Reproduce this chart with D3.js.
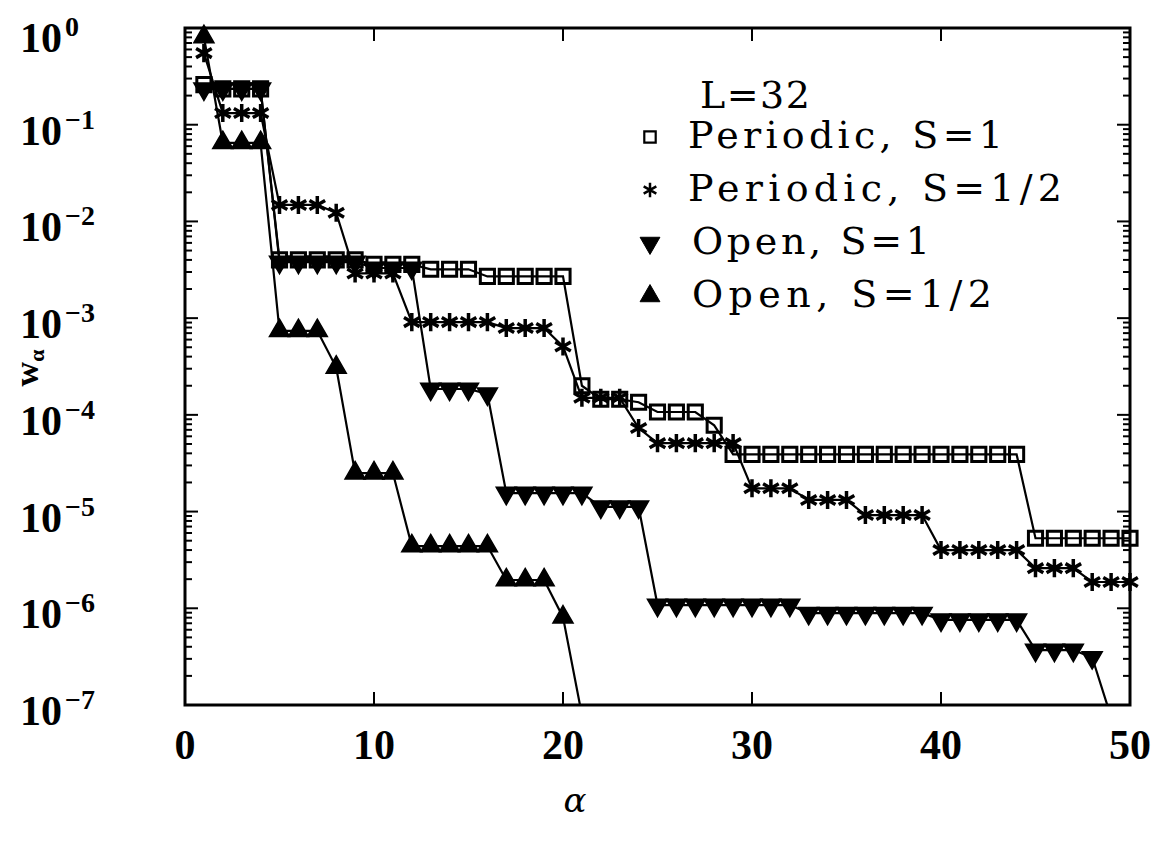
<!DOCTYPE html>
<html><head><meta charset="utf-8">
<script src="https://cdn.jsdelivr.net/npm/d3@7"></script>
<style>body{margin:0;background:#fff}</style>
</head><body>
<svg id="c" width="1166" height="845"></svg>
<script>
// ---- data ----
const alpha = [1,2,3,4,5,6,7,8,9,10,11,12,13,14,15,16,17,18,19,20,21,22,23,24,25,26,27,28,29,30,31,32,33,34,35,36,37,38,39,40,41,42,43,44,45,46,47,48,49,50];
const periodicS1 = [0.26,0.235,0.235,0.235,0.0040,0.0040,0.0040,0.0040,0.0040,0.0036,0.0036,0.0036,0.0032,0.0032,0.0032,0.0027,0.0027,0.0027,0.0027,0.0027,
  2.0e-4,1.45e-4,1.45e-4,1.35e-4,1.07e-4,1.07e-4,1.07e-4,7.8e-5,
  3.9e-5,3.9e-5,3.9e-5,3.9e-5,3.9e-5,3.9e-5,3.9e-5,3.9e-5,3.9e-5,3.9e-5,3.9e-5,3.9e-5,3.9e-5,3.9e-5,3.9e-5,3.9e-5,
  5.3e-6,5.3e-6,5.3e-6,5.3e-6,5.3e-6,5.3e-6];
const periodicS12 = [0.55,0.132,0.132,0.132,0.0148,0.0148,0.0148,0.0123,0.0029,0.0029,0.0029,
  9.1e-4,9.1e-4,9.1e-4,9.1e-4,9.1e-4,7.9e-4,7.9e-4,7.9e-4,5.1e-4,1.5e-4,1.5e-4,1.5e-4,7.3e-5,
  5.1e-5,5.1e-5,5.1e-5,5.1e-5,5.1e-5,1.74e-5,1.74e-5,1.74e-5,1.32e-5,1.32e-5,1.32e-5,
  9.2e-6,9.2e-6,9.2e-6,9.2e-6,4.0e-6,4.0e-6,4.0e-6,4.0e-6,4.0e-6,2.6e-6,2.6e-6,2.6e-6,1.87e-6,1.87e-6,1.87e-6];
const openS1 = [0.235,0.235,0.235,0.235,0.0038,0.0038,0.0038,0.0038,0.0038,0.0033,0.0033,0.0033,
  1.85e-4,1.85e-4,1.85e-4,1.65e-4,1.55e-5,1.55e-5,1.55e-5,1.55e-5,1.55e-5,1.12e-5,1.12e-5,1.12e-5,
  1.08e-6,1.08e-6,1.08e-6,1.08e-6,1.08e-6,1.08e-6,1.08e-6,1.08e-6,
  8.9e-7,8.9e-7,8.9e-7,8.9e-7,8.9e-7,8.9e-7,8.9e-7,7.6e-7,7.6e-7,7.6e-7,7.6e-7,7.6e-7,
  3.7e-7,3.7e-7,3.7e-7,3.1e-7,7.5e-8];
const openS12 = [0.81,0.065,0.065,0.065,7.4e-4,7.4e-4,7.4e-4,3.1e-4,2.5e-5,2.5e-5,2.5e-5,
  4.4e-6,4.4e-6,4.4e-6,4.4e-6,4.4e-6,1.96e-6,1.96e-6,1.96e-6,8.1e-7,7.9e-8];
const seriesNames = ["Periodic,  S=1","Periodic,  S=1/2","Open,  S=1","Open,  S=1/2"];
const legendTitle = "L=32";
const xTicks = [0,10,20,30,40,50];
const xTickLabels = ["0","10","20","30","40","50"];
const yTickExps = ["0","\u22121","\u22122","\u22123","\u22124","\u22125","\u22126","\u22127"];

// ---- layout ----
const L=185, R=1130, T=28, B=705;
const svg = d3.select("#c");
const xs = d3.scaleLinear().domain([0,50]).range([L,R]);
const ys = d3.scaleLog().domain([1e-7,1]).range([B,T]);

svg.append("defs").append("clipPath").attr("id","clip")
  .append("rect").attr("x",L).attr("y",T).attr("width",R-L).attr("height",B-T);

// ticks
const g = svg.append("g").attr("stroke","#000");
const allY = ys.ticks();
allY.forEach(v=>{
  const lg = Math.log10(v);
  const major = Math.abs(lg-Math.round(lg))<1e-6;
  const len = major?13:7;
  const y = ys(v);
  g.append("line").attr("x1",L).attr("x2",L+len).attr("y1",y).attr("y2",y).attr("stroke-width",2);
  g.append("line").attr("x1",R).attr("x2",R-len).attr("y1",y).attr("y2",y).attr("stroke-width",2);
});
xTicks.forEach(v=>{
  const x = xs(v);
  g.append("line").attr("x1",x).attr("x2",x).attr("y1",B).attr("y2",B-13).attr("stroke-width",2);
  g.append("line").attr("x1",x).attr("x2",x).attr("y1",T).attr("y2",T+13).attr("stroke-width",2);
});

// frame
svg.append("rect").attr("x",L).attr("y",T).attr("width",R-L).attr("height",B-T)
  .attr("fill","none").attr("stroke","#000").attr("stroke-width",3);

// tick labels
const lblFont = "'Liberation Serif', serif";
xTicks.forEach((v,i)=>{
  svg.append("text").attr("x",xs(v)).attr("y",B+54).attr("text-anchor","middle")
    .attr("font-family",lblFont).attr("font-weight","bold").attr("font-size",42)
    .text(xTickLabels[i]);
});
const majors = allY.filter(v=>{const lg=Math.log10(v);return Math.abs(lg-Math.round(lg))<1e-6;});
majors.forEach(v=>{
  const e = Math.round(Math.log10(v));
  const t = svg.append("text").attr("x",20).attr("y",ys(v)+ (e===0?24:20))
    .attr("font-family",lblFont).attr("font-weight","bold").attr("font-size",42);
  t.append("tspan").text("10");
  t.append("tspan").attr("dy",-16).attr("dx",3).attr("font-size",28).text(yTickExps[-e]);
});

// axis titles
svg.append("text").attr("x",575).attr("y",812).attr("text-anchor","middle")
  .attr("font-family","'DejaVu Serif', serif").attr("font-style","italic").attr("font-size",34).text("\u03b1");
const yl = svg.append("text").attr("transform","translate(38,368) rotate(-90)").attr("text-anchor","middle")
  .attr("font-family",lblFont).attr("font-weight","bold").attr("font-size",34);
yl.append("tspan").text("w");
yl.append("tspan").attr("dy",6).attr("font-size",22).text("\u03b1");

// series
const seriesVals = [periodicS1, periodicS12, openS1, openS12];
const symbolTypes = ["square","star","down","up"];
function sym(type){
  if(type==="square") return d3.symbol().type(d3.symbolSquare).size(200)();
  if(type==="star") return d3.symbol().type(d3.symbolAsterisk).size(230)();
  return d3.symbol().type(d3.symbolTriangle).size(175)();
}
const line = d3.line().x(d=>xs(d.a)).y(d=>ys(d.w));
const lines = svg.append("g").attr("clip-path","url(#clip)");
const marks = svg.append("g");
seriesVals.forEach((vals,si)=>{
  const data = vals.map((w,i)=>({a:alpha[i],w}));
  lines.append("path").datum(data).attr("d",line).attr("fill","none").attr("stroke","#000").attr("stroke-width",2.2);
  const type = symbolTypes[si];
  marks.selectAll(null).data(data.filter(d=>d.w>=1e-7)).enter().append("path")
    .attr("d",sym(type))
    .attr("transform",d=>`translate(${xs(d.a)},${ys(d.w)})`+(type==="down"?" rotate(180)":""))
    .attr("fill",type==="square"?"none":"#000")
    .attr("stroke","#000").attr("stroke-width",type==="star"?3.5:(type==="square"?3:1.5));
});

// legend
const legFont = "'DejaVu Serif', serif";
svg.append("text").attr("x",700).attr("y",108).attr("font-family",legFont).attr("font-size",38)
  .attr("textLength",110).attr("lengthAdjust","spacing").text(legendTitle);
const legRows = [{y:148,x:688,w:315},{y:201,x:688,w:374},{y:254,x:692,w:238},{y:307,x:692,w:300}];
legRows.forEach((r,i)=>{
  svg.append("text").attr("x",r.x).attr("y",r.y).attr("font-family",legFont).attr("font-size",38)
    .attr("textLength",r.w).attr("lengthAdjust","spacing").text(seriesNames[i]);
  const type = symbolTypes[i];
  const sy = r.y-11;
  svg.append("path").attr("d", type==="square"? d3.symbol().type(d3.symbolSquare).size(130)() :
        type==="star"? d3.symbol().type(d3.symbolAsterisk).size(150)() : d3.symbol().type(d3.symbolTriangle).size(170)())
    .attr("transform",`translate(650,${sy})`+(type==="down"?" rotate(180)":""))
    .attr("fill",type==="square"?"none":"#000").attr("stroke","#000")
    .attr("stroke-width",type==="star"?2.5:(type==="square"?2.2:1));
});
</script>
</body></html>
